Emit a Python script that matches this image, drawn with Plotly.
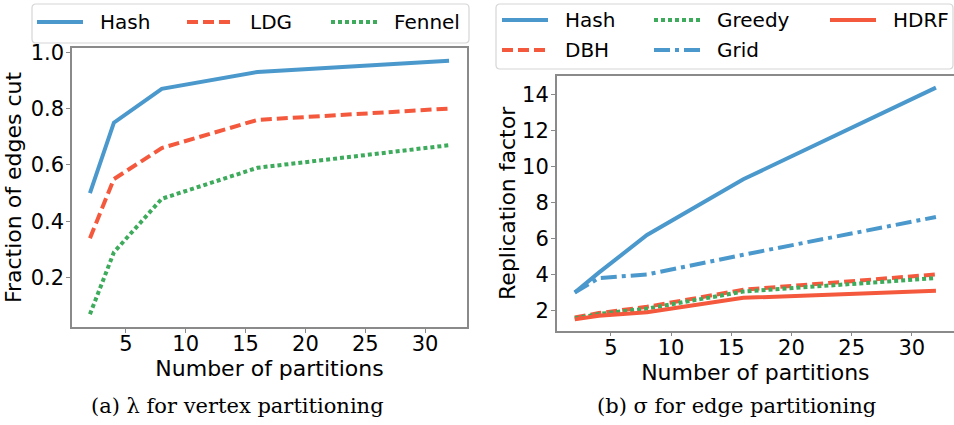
import plotly.graph_objects as go

# ---- data ----
partitions = [2, 4, 8, 16, 32]

# (a) fraction of edges cut (vertex partitioning)
hash_v = [0.50, 0.75, 0.87, 0.93, 0.97]
ldg_v = [0.34, 0.55, 0.66, 0.76, 0.80]
fennel_v = [0.07, 0.29, 0.48, 0.59, 0.67]

# (b) replication factor (edge partitioning)
hash_e = [3.0, 4.1, 6.2, 9.3, 14.4]
dbh_e = [1.6, 1.85, 2.2, 3.15, 4.0]
greedy_e = [1.55, 1.8, 2.1, 3.05, 3.8]
grid_e = [3.0, 3.8, 4.0, 5.1, 7.2]
hdrf_e = [1.5, 1.7, 1.9, 2.7, 3.1]

x_ticks = [5, 10, 15, 20, 25, 30]
y_ticks_a = [0.2, 0.4, 0.6, 0.8, 1.0]
y_ticks_b = [2, 4, 6, 8, 10, 12, 14]

BLUE = "#4b99cc"
RED = "#f4593d"
GREEN = "#3dab5b"
LW = 4
SOLID = "solid"
DASH = "11px,5px"
DOT = "4px,3px"
DASHDOT = "16px,5px,4px,5px"

W, H = 954, 425
FONT = "DejaVu Sans"

fig = go.Figure()

series_a = [("Hash", hash_v, BLUE, SOLID), ("LDG", ldg_v, RED, DASH), ("Fennel", fennel_v, GREEN, DOT)]
series_b = [("Hash", hash_e, BLUE, SOLID), ("DBH", dbh_e, RED, DASH), ("Greedy", greedy_e, GREEN, DOT),
            ("Grid", grid_e, BLUE, DASHDOT), ("HDRF", hdrf_e, RED, SOLID)]

for name, vals, col, dash in series_a:
    fig.add_trace(go.Scatter(x=partitions, y=vals, mode="lines", name=name, showlegend=False,
                             line=dict(color=col, width=LW, dash=dash), xaxis="x", yaxis="y"))
for name, vals, col, dash in series_b:
    fig.add_trace(go.Scatter(x=partitions, y=vals, mode="lines", name=name, showlegend=False,
                             line=dict(color=col, width=LW, dash=dash), xaxis="x2", yaxis="y2"))

TICKFONT = dict(family=FONT, size=21, color="black")
TITLEFONT = dict(family=FONT, size=22, color="black")
FRAME = "#8a8a8a"

axis_common = dict(showgrid=False, zeroline=False, showline=True, linecolor=FRAME, linewidth=1.5,
                   mirror=True, ticks="outside", ticklen=4, tickcolor=FRAME, tickwidth=1.2,
                   tickfont=TICKFONT)
x_common = dict(axis_common, ticklabelstandoff=-7)
y_common = dict(axis_common, ticklabelstandoff=-2)

shapes = []
annotations = []


def px(x):
    return x / W


def py(y):
    return 1 - y / H


def legend_box(x0, y0, x1, y1, r=4):
    path = (f"M{px(x0 + r)},{py(y0)} L{px(x1 - r)},{py(y0)} Q{px(x1)},{py(y0)} {px(x1)},{py(y0 + r)} "
            f"L{px(x1)},{py(y1 - r)} Q{px(x1)},{py(y1)} {px(x1 - r)},{py(y1)} "
            f"L{px(x0 + r)},{py(y1)} Q{px(x0)},{py(y1)} {px(x0)},{py(y1 - r)} "
            f"L{px(x0)},{py(y0 + r)} Q{px(x0)},{py(y0)} {px(x0 + r)},{py(y0)} Z")
    shapes.append(dict(type="path", xref="paper", yref="paper", path=path,
                       line=dict(color="#d6d6d6", width=1.2), fillcolor="rgba(255,255,255,0.8)", layer="above"))


def legend_entry(text_x, y, name, col, dash):
    shapes.append(dict(type="line", xref="paper", yref="paper", x0=px(text_x - 61), x1=px(text_x - 15),
                       y0=py(y), y1=py(y), line=dict(color=col, width=LW, dash=dash), layer="above"))
    annotations.append(dict(text=name, x=px(text_x), y=py(y), xref="paper", yref="paper", showarrow=False,
                            xanchor="left", yanchor="middle", font=dict(family=FONT, size=20, color="black")))


# legend (a): one row
legend_box(32, 4, 469, 43)
for (name, _, col, dash), tx in zip(series_a, [98, 248, 392]):
    legend_entry(tx, 22, name, col, dash)

# legend (b): three columns, two rows (column-major order)
legend_box(496, 4, 953, 69)
cols_b = [563, 563, 715, 715, 891]
rows_b = [20, 50, 20, 50, 20]
for (name, _, col, dash), tx, ty in zip(series_b, cols_b, rows_b):
    legend_entry(tx, ty, name, col, dash)

CAPFONT = dict(family="DejaVu Serif", size=21, color="black")
annotations.append(dict(text="(a) λ for vertex partitioning", x=px(237), y=py(406), xref="paper", yref="paper",
                        showarrow=False, xanchor="center", yanchor="middle", font=CAPFONT))
annotations.append(dict(text="(b) σ for edge partitioning", x=px(736), y=py(406), xref="paper", yref="paper",
                        showarrow=False, xanchor="center", yanchor="middle", font=CAPFONT))

fig.update_layout(
    width=W, height=H,
    margin=dict(l=0, r=0, t=0, b=0, autoexpand=False),
    paper_bgcolor="white", plot_bgcolor="white",
    showlegend=False,
    xaxis=dict(domain=[72 / W, 467 / W], range=[0.5, 33.5], tickvals=x_ticks,
               title=dict(text="Number of partitions", font=TITLEFONT, standoff=0),
               anchor="y", **x_common),
    yaxis=dict(domain=[1 - 327 / H, 1 - 48 / H], range=[0.025, 1.015], tickvals=y_ticks_a,
               tickformat=".1f",
               title=dict(text="Fraction of edges cut", font=TITLEFONT, standoff=3),
               anchor="x", **y_common),
    xaxis2=dict(domain=[556.7 / W, 1.0], range=[0.5, 33.5], tickvals=x_ticks,
                title=dict(text="Number of partitions", font=TITLEFONT, standoff=0),
                anchor="y2", **x_common),
    yaxis2=dict(domain=[1 - 330.7 / H, 1 - 76 / H], range=[0.87, 15.05], tickvals=y_ticks_b,
                title=dict(text="Replication factor", font=TITLEFONT, standoff=0),
                anchor="x2", **y_common),
    shapes=shapes,
    annotations=annotations,
)

fig.write_html("out.html", config={"displayModeBar": False},
               post_script="document.body.style.margin='0px';")
